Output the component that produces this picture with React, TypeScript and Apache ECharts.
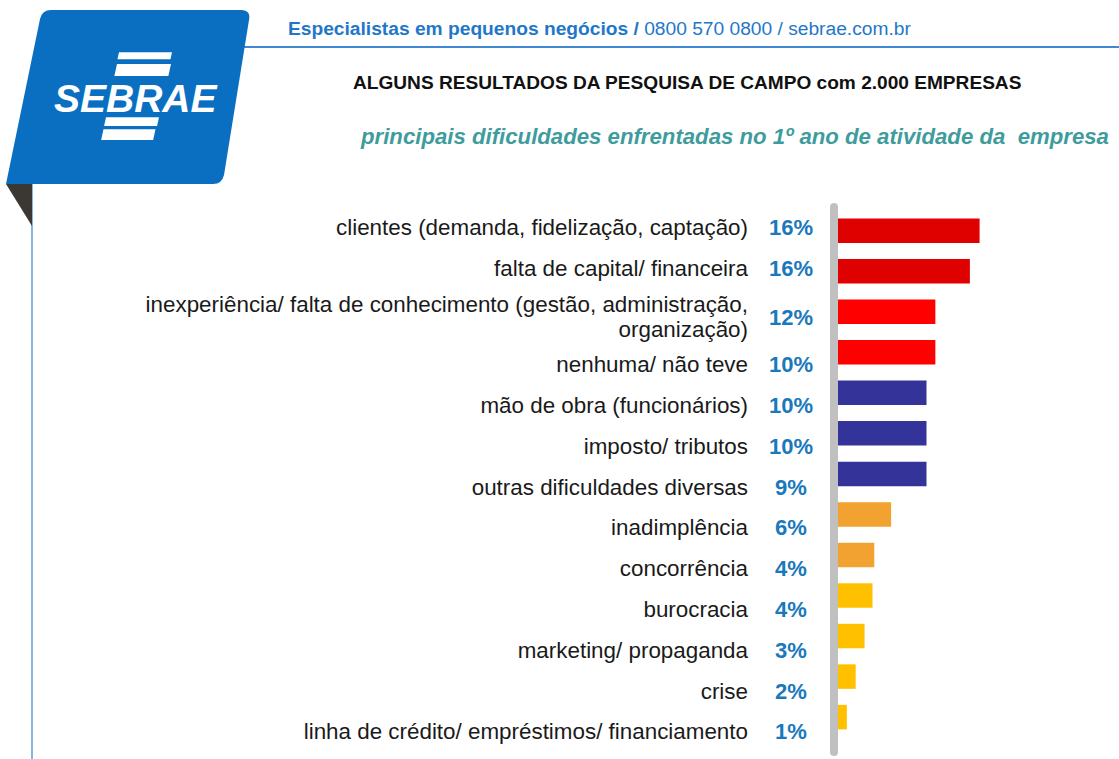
import React, { useEffect, useRef } from 'react';
import * as echarts from 'echarts';

// ---- data ----
const categories: string[] = [
  'clientes (demanda, fidelização, captação)',
  'falta de capital/ financeira',
  'inexperiência/ falta de conhecimento (gestão, administração,\norganização)',
  'nenhuma/ não teve',
  'mão de obra (funcionários)',
  'imposto/ tributos',
  'outras dificuldades diversas',
  'inadimplência',
  'concorrência',
  'burocracia',
  'marketing/ propaganda',
  'crise',
  'linha de crédito/ empréstimos/ financiamento',
];
const barValues: number[] = [16.0, 14.9, 11.0, 11.0, 10.0, 10.0, 10.0, 6.0, 4.1, 3.9, 3.0, 2.0, 1.0];
const percentLabels: string[] = ['16%', '16%', '12%', '10%', '10%', '10%', '9%', '6%', '4%', '4%', '3%', '2%', '1%'];

const headerBold = 'Especialistas em pequenos negócios /';
const headerNormal = ' 0800 570 0800 / sebrae.com.br';
const subtitle = 'ALGUNS RESULTADOS DA PESQUISA DE CAMPO com 2.000 EMPRESAS';
const chartTitle = 'principais dificuldades enfrentadas no 1º ano de atividade da  empresa';
const logoText = 'SEBRAE';

// ---- styles ----
const barColors: string[] = [
  '#df0000', '#df0000', '#ff0000', '#ff0000',
  '#333399', '#333399', '#333399',
  '#f2a231', '#f2a231',
  '#ffc000', '#ffc000', '#ffc000', '#ffc000',
];
// vertical nudge of each row's text (table rows are not evenly spaced)
const labelShift: number[] = [0, -1, 5.5, 11, 10, 9, 7.5, 6, 5, 4, 3, 2, 0.5];

const FONT = '"Liberation Sans", Arial, Helvetica, sans-serif';
const CAT_SIZE = 22.4;

const logoPath =
  'M 6 184 L 40 19 Q 42 10 51 10 L 241 10 Q 251 10 249 20 L 224 175 Q 222 184 213 184 Z';
echarts.graphic.registerShape('sebraeLogo', echarts.graphic.extendPath(logoPath, {}) as any);

function pad(d: number): number[] {
  return d >= 0 ? [2 * d, 0, 0, 0] : [0, 0, -2 * d, 0];
}

const catRich: Record<string, any> = {
  c: { fontFamily: FONT, fontSize: CAT_SIZE, color: '#1a1a1a', height: 25 },
};
const pctRich: Record<string, any> = {};
labelShift.forEach((d, i) => {
  catRich['c' + i] = { fontFamily: FONT, fontSize: CAT_SIZE, color: '#1a1a1a', height: 25, padding: pad(d) };
  pctRich['p' + i] = {
    fontFamily: FONT, fontSize: 22, fontWeight: 'bold', color: '#1a78bc', height: 25, padding: pad(d),
  };
});

function stripe(x: number, y: number, w: number, h: number) {
  const s = 0.22;
  return {
    type: 'polygon',
    shape: { points: [[x, y], [x + w, y], [x + w - s * h, y + h], [x - s * h, y + h]] },
    style: { fill: '#ffffff' },
  };
}

const option: any = {
  animation: false,
  backgroundColor: '#ffffff',
  grid: [
    { left: 838, top: 210.4, width: 265.5, height: 527 },
    { left: 834, top: 207, width: 10, height: 545 },
  ],
  xAxis: [
    { type: 'value', gridIndex: 0, min: 0, max: 30, show: false },
    { type: 'value', gridIndex: 1, min: 0, max: 1, show: false },
  ],
  yAxis: [
    { type: 'category', gridIndex: 0, inverse: true, data: categories, show: false },
    {
      type: 'category',
      gridIndex: 1,
      inverse: true,
      position: 'left',
      data: categories,
      axisLine: { show: true, lineStyle: { color: '#c0c0c0', width: 8 } },
      axisTick: { show: false },
      splitLine: { show: false },
      axisLabel: {
        interval: 0,
        margin: 86,
        align: 'right',
        hideOverlap: false,
        formatter: (v: string, idx: number) =>
          v.split('\n').map((ln, k) => `{${k === 0 ? 'c' + idx : 'c'}|${ln}}`).join('\n'),
        rich: catRich,
      },
    },
    {
      type: 'category',
      gridIndex: 1,
      inverse: true,
      position: 'left',
      data: categories,
      axisLine: { show: false },
      axisTick: { show: false },
      splitLine: { show: false },
      axisLabel: {
        interval: 0,
        margin: 43,
        align: 'center',
        hideOverlap: false,
        formatter: (_v: string, idx: number) => `{p${idx}|${percentLabels[idx]}}`,
        rich: pctRich,
      },
    },
  ],
  series: [
    {
      type: 'bar',
      xAxisIndex: 0,
      yAxisIndex: 0,
      barWidth: 24.5,
      data: barValues.map((v, i) => ({ value: v, itemStyle: { color: barColors[i] } })),
      label: { show: false },
    },
  ],
  graphic: [
    // thin blue vertical rule and header rule
    { type: 'line', shape: { x1: 32, y1: 184, x2: 32, y2: 759 }, style: { stroke: '#5b9bd5', lineWidth: 1.5 } },
    { type: 'line', shape: { x1: 242, y1: 47, x2: 1119, y2: 47 }, style: { stroke: '#3f8ad2', lineWidth: 1.8 } },
    // logo
    { type: 'sebraeLogo', x: 0, y: 0, style: { fill: '#0b6fc1' } },
    { type: 'polygon', shape: { points: [[6, 184], [32, 184], [32, 226]] }, style: { fill: '#3b3834' } },
    stripe(119, 52.3, 53, 7),
    stripe(117, 64, 54, 12),
    stripe(106, 117.3, 53, 8.7),
    stripe(103.5, 129.3, 52, 10.7),
    {
      type: 'text',
      x: 54,
      y: 98,
      style: {
        text: logoText,
        fontFamily: FONT,
        fontSize: 39,
        fontWeight: 'bold',
        fontStyle: 'italic',
        fill: '#ffffff',
        align: 'left',
        verticalAlign: 'middle',
      },
    },
    // header texts
    {
      type: 'text',
      x: 288,
      y: 28,
      style: {
        text: `{b|${headerBold}}{n|${headerNormal}}`,
        align: 'left',
        verticalAlign: 'middle',
        rich: {
          b: { fontFamily: FONT, fontSize: 19.2, fontWeight: 'bold', fill: '#1f77c9', color: '#1f77c9' },
          n: { fontFamily: FONT, fontSize: 19.2, fill: '#1f77c9', color: '#1f77c9' },
        },
      },
    },
    {
      type: 'text',
      x: 353,
      y: 82,
      style: {
        text: subtitle,
        fontFamily: FONT,
        fontSize: 19.1,
        fontWeight: 'bold',
        fill: '#111111',
        align: 'left',
        verticalAlign: 'middle',
      },
    },
    {
      type: 'text',
      x: 361,
      y: 136,
      style: {
        text: chartTitle,
        fontFamily: FONT,
        fontSize: 22.2,
        fontWeight: 'bold',
        fontStyle: 'italic',
        fill: '#3f9c9c',
        align: 'left',
        verticalAlign: 'middle',
      },
    },
  ],
};

export default function App() {
  const ref = useRef<HTMLDivElement>(null);
  useEffect(() => {
    if (!ref.current) return;
    const chart = echarts.init(ref.current, null, { renderer: 'svg' });
    chart.setOption(option);
    return () => chart.dispose();
  }, []);
  return (
    <div
      ref={ref}
      style={{ position: 'absolute', left: 0, top: 0, width: 1119, height: 759, background: '#ffffff' }}
    />
  );
}
